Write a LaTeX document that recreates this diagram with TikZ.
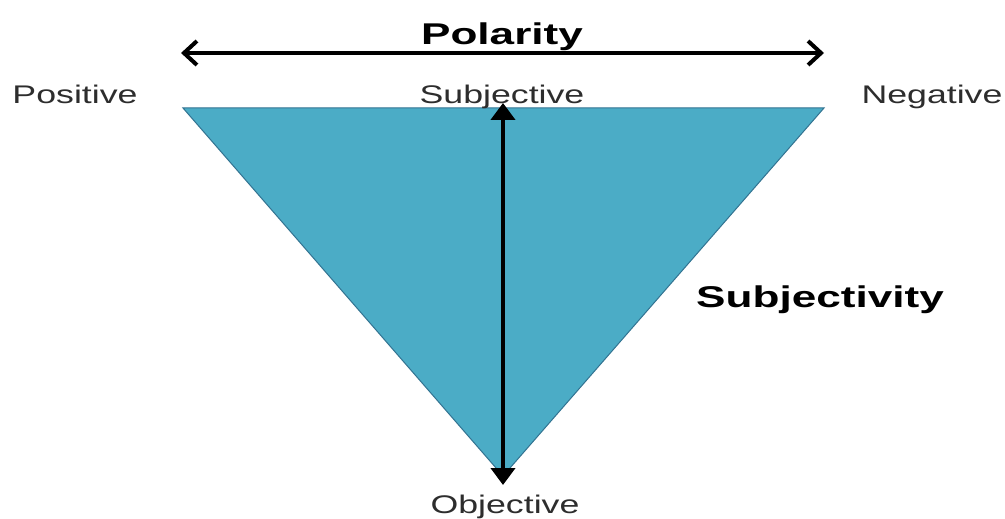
\documentclass[tikz,border=0pt]{standalone}
\usepackage{fontspec}
\setmainfont{Liberation Sans}
\usetikzlibrary{arrows.meta}
\definecolor{TriFill}{RGB}{75,172,198}
\definecolor{TriEdge}{RGB}{50,115,145}
\definecolor{LabelGray}{RGB}{45,45,45}

\begin{document}
\begin{tikzpicture}[x=1pt, y=1pt,
  lbl/.style={font=\fontsize{25.5}{30}\selectfont, text=LabelGray,
    xscale=1.4, transform shape, inner sep=0pt, anchor=base},
  title/.style={font=\fontsize{30}{36}\selectfont\bfseries, text=black,
    xscale=1.47, transform shape, inner sep=0pt, anchor=base},
  polarr/.style={{Straight Barb[length=13pt,width=24pt]}-{Straight Barb[length=13pt,width=24pt]},
    line width=4pt},
  subarr/.style={{Triangle[length=17pt,width=24pt]}-{Triangle[length=17pt,width=24pt]},
    line width=4.5pt}
]
\useasboundingbox (0,0) rectangle (1005,-519);
% triangle
\coordinate (tl) at (183,-108);
\coordinate (tr) at (824,-108);
\coordinate (bot) at (503,-476);
\draw[TriEdge, fill=TriFill, line width=1pt] (tl) -- (tr) -- (bot) -- cycle;
% labels
\node[title] (pol) at (502,-45) {Polarity};
\node[lbl] (pos) at (75,-103) {Positive};
\node[lbl] (neg) at (932,-103) {Negative};
\node[lbl] (subj) at (502,-103) {Subjective};
\node[lbl] (obj) at (505,-513) {Objective};
\node[title] (subjty) at (820,-307) {Subjectivity};
% arrows
\coordinate (polL) at (181,-53);
\coordinate (polR) at (824,-53);
\draw[polarr] (polL) -- (polR);
\coordinate (subTop) at (503,-103);
\coordinate (subBot) at (503,-485);
\draw[subarr] (subTop) -- (subBot);
\end{tikzpicture}
\end{document}
